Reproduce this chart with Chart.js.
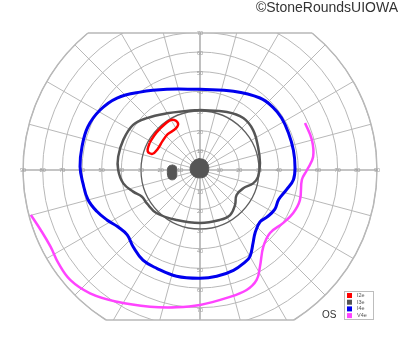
<!DOCTYPE html>
<html>
<head>
<meta charset="utf-8">
<script src="https://cdn.jsdelivr.net/npm/chart.js@4"></script>
<style>
  html, body { margin: 0; padding: 0; background: #fff; }
  #wrap { position: relative; width: 400px; height: 352px; }
  #mark { position: absolute; right: 2px; top: -1px; font: 14px "Liberation Sans", Arial, sans-serif; color: #333; }
  #eye { position: absolute; left: 322px; top: 309px; font: 10px "Liberation Sans", Arial, sans-serif; color: #333; }
</style>
</head>
<body>
<div id="wrap">
  <canvas id="vf" width="400" height="352"></canvas>
  <div id="mark">©StoneRoundsUIOWA</div>
  <div id="eye">OS</div>
</div>
<script>
// isopters, in degrees [x, y] (x: right +, y: up +)
const i2e = [[-25.6,13.9],[-22.2,19],[-17.8,23.4],[-14.2,25.6],[-11.2,23.8],[-12.4,21],[-16.4,18.2],[-19,14.8],[-21.6,10.6],[-24.2,8.2],[-26.6,9.6],[-25.6,13.9]];
const i3e = [[0,30.5],[13.7,29.5],[22,26.4],[27,20.3],[29.5,11.8],[30.5,3.5],[29.5,-3.5],[27,-6.8],[22,-9.3],[18.6,-12.7],[17.8,-17.8],[15.3,-22.9],[10,-25.4],[0,-26.9],[-11.9,-25.4],[-22,-22],[-27,-17],[-29.5,-13.6],[-34,-11],[-39,-6.8],[-41.6,0],[-41.6,6.8],[-39,15.3],[-34,22.9],[-27,26.4],[-16.8,28.8],[-6.8,30],[0,30.5]];
const i4e = [[0,41],[17,40],[30.5,36.6],[37,32],[41.5,26.4],[45,18.8],[47.5,10],[48.3,1.5],[47.5,-5],[44,-10],[40,-15],[38,-20],[34,-24],[30.5,-26.4],[28,-32],[27,-37],[25.4,-44],[23,-46.7],[17,-51],[8.5,-54],[0,-55],[-11.9,-54],[-22,-50],[-29,-45.8],[-34,-39],[-37,-33],[-41.6,-29],[-47.3,-25.4],[-52.5,-21],[-57,-15],[-59.5,-6.8],[-61,1.7],[-60,11.8],[-57,22],[-50.8,30.5],[-42.2,36.6],[-30.5,39.6],[-16.8,41],[0,41]];
const v4e = [[53.4,23.9],[56.9,15.3],[57.5,6.6],[54.4,0],[51.8,-5],[50.8,-15.3],[47.3,-22],[42.2,-27],[35.6,-32],[32.2,-39],[30.5,-49],[28.8,-55.9],[23.7,-61],[13.6,-65],[0,-68.6],[-11.9,-69.8],[-25.4,-69.5],[-42.2,-67],[-55.9,-62.7],[-66,-55.9],[-72,-47.4],[-76,-39],[-81,-30.5],[-86,-22.9]];
// scotomas
const fovea = [[-0.5,5.8],[2.5,5],[4.2,2.5],[4.3,-0.5],[3,-3],[0,-4],[-3,-3.3],[-4.8,-1],[-4.8,2],[-3.2,4.6],[-0.5,5.8]];
const blindSpot = [[-14,2.6],[-12.2,1.8],[-11.8,-1.2],[-12.2,-4],[-14,-5],[-15.9,-4.2],[-16.6,-1.2],[-16,1.8],[-14,2.6]];

const rings = [10, 20, 30, 40, 50, 60, 70, 80, 90];
const hLabels = [90, 80, 70, 60, 50, 40, 30, 20, 10];
const vLabels = [10, 20, 30, 40, 50, 60, 70];
const legendLabels = ["I2e", "I3e", "I4e", "V4e"];
const legendColors = ["#ff0000", "#555555", "#0000ee", "#ff44ff"];

const pts = (a) => a.map(p => ({ x: p[0], y: p[1] }));

const polarGrid = {
  id: "polarGrid",
  beforeDatasetsDraw(chart) {
    const { ctx, chartArea: a, scales: { x, y } } = chart;
    const cx = x.getPixelForValue(0), cy = y.getPixelForValue(0);
    const k = x.getPixelForValue(1) - cx;
    const R = 90 * k;
    ctx.save();
    ctx.beginPath();
    ctx.rect(a.left, a.top, a.right - a.left, a.bottom - a.top);
    ctx.clip();
    ctx.beginPath();
    ctx.arc(cx, cy, R + 1, 0, Math.PI * 2);
    ctx.clip();
    ctx.lineWidth = 1;
    ctx.strokeStyle = "#b8b8b8";
    rings.forEach(r => {
      if (r === 30) return;
      ctx.beginPath();
      ctx.arc(cx, cy, r * k, 0, Math.PI * 2);
      ctx.stroke();
    });
    for (let d = 0; d < 360; d += 15) {
      const t = d * Math.PI / 180;
      ctx.beginPath();
      ctx.moveTo(cx, cy);
      ctx.lineTo(cx + R * Math.cos(t), cy - R * Math.sin(t));
      ctx.lineWidth = d % 90 === 0 ? 1.6 : 1;
      ctx.strokeStyle = d % 90 === 0 ? "#b0b0b0" : "#b8b8b8";
      ctx.stroke();
    }
    ctx.beginPath();
    ctx.arc(cx, cy, 30 * k, 0, Math.PI * 2);
    ctx.lineWidth = 1.3;
    ctx.strokeStyle = "#606060";
    ctx.stroke();
    ctx.restore();

    // outer border: rim plus top and bottom cut lines
    ctx.save();
    ctx.strokeStyle = "#b8b8b8";
    ctx.lineWidth = 1.5;
    const ht = cy - a.top, hb = a.bottom - cy;
    const wt = Math.sqrt(R * R - ht * ht), wb = Math.sqrt(R * R - hb * hb);
    ctx.beginPath();
    ctx.moveTo(cx - wt, a.top);
    ctx.lineTo(cx + wt, a.top);
    ctx.moveTo(cx - wb, a.bottom);
    ctx.lineTo(cx + wb, a.bottom);
    ctx.stroke();
    const at = Math.asin(ht / R), ab = Math.asin(hb / R);
    ctx.beginPath();
    ctx.arc(cx, cy, R, -at, ab);
    ctx.stroke();
    ctx.beginPath();
    ctx.arc(cx, cy, R, Math.PI - ab, Math.PI + at);
    ctx.stroke();

    ctx.fillStyle = "#999";
    ctx.font = "5.5px 'Liberation Sans', Arial, sans-serif";
    ctx.textAlign = "center";
    ctx.textBaseline = "middle";
    hLabels.forEach(v => {
      ctx.fillText(String(v), cx - v * k, cy);
      ctx.fillText(String(v), cx + v * k, cy);
    });
    vLabels.forEach(v => {
      ctx.fillText(String(v), cx, cy - v * k + 1.5);
      ctx.fillText(String(v), cx, cy + v * k + 2.5);
    });
    ctx.restore();
  },
  afterDraw(chart) {
    const { ctx } = chart;
    const bx = 344.5, by = 291.5, bw = 29, bh = 28;
    ctx.save();
    ctx.fillStyle = "#fff";
    ctx.fillRect(bx, by, bw, bh);
    ctx.strokeStyle = "#bdbdbd";
    ctx.lineWidth = 1;
    ctx.strokeRect(bx, by, bw, bh);
    ctx.font = "5.5px 'Liberation Sans', Arial, sans-serif";
    ctx.textBaseline = "middle";
    legendLabels.forEach((lab, i) => {
      const yy = by + 4 + i * 6.7;
      ctx.fillStyle = legendColors[i];
      ctx.fillRect(bx + 2.5, yy - 2.5, 5, 5);
      ctx.fillStyle = "#555";
      ctx.fillText(lab, bx + 12.5, yy);
    });
    ctx.restore();
  }
};

const lineDs = (label, data, color, w) => ({
  label, data: pts(data), showLine: true, borderColor: color, borderWidth: w,
  pointRadius: 0, tension: 0.4, fill: false
});
const blobDs = (label, data) => ({
  label, data: pts(data), showLine: true, borderColor: "#555", backgroundColor: "#555",
  borderWidth: 1, pointRadius: 0, tension: 0.4, fill: "shape"
});

new Chart(document.getElementById("vf"), {
  type: "scatter",
  data: {
    datasets: [
      lineDs("V4e", v4e, "#ff44ff", 2.5),
      lineDs("I4e", i4e, "#0000ee", 3),
      lineDs("I3e", i3e, "#555555", 2.5),
      lineDs("I2e", i2e, "#ff0000", 2.5),
      blobDs("fovea", fovea),
      blobDs("blind spot", blindSpot)
    ]
  },
  options: {
    responsive: false,
    animation: false,
    layout: { padding: { left: 23, right: 23, top: 33, bottom: 32 } },
    plugins: { legend: { display: false }, tooltip: { enabled: false } },
    scales: {
      x: { display: false, min: -90, max: 90 },
      y: { display: false, min: -76.26, max: 69.65 }
    }
  },
  plugins: [polarGrid]
});
</script>
</body>
</html>
